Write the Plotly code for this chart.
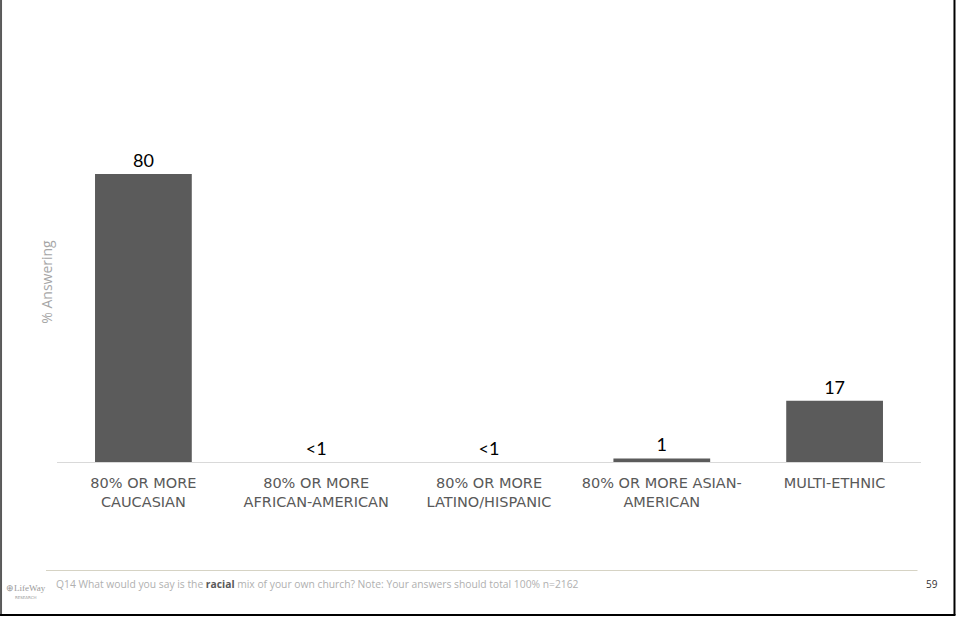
import plotly.graph_objects as go

categories = ["80% OR MORE<br>CAUCASIAN", "80% OR MORE<br>AFRICAN-AMERICAN",
              "80% OR MORE<br>LATINO/HISPANIC", "80% OR MORE ASIAN-<br>AMERICAN",
              "MULTI-ETHNIC"]
values = [80, 0, 0, 1, 17]
value_labels = ["80", "<1", "<1", "1", "17"]

W, H = 958, 617
L, R, T, B = 57, 36.5, 102, 155
PW, PH = W - L - R, H - T - B


def px(x):
    return (x - L) / PW


def py(y):
    return (H - B - y) / PH


fig = go.Figure(go.Bar(
    x=categories, y=values, text=value_labels, textposition="outside",
    marker=dict(color="#5b5b5b", line=dict(width=0)),
    textfont=dict(family="Lato", size=18, color="#000000"),
    cliponaxis=False, hoverinfo="skip",
))

fig.update_layout(
    width=W, height=H, margin=dict(l=L, r=R, t=T, b=B, autoexpand=False),
    paper_bgcolor="white", plot_bgcolor="white", showlegend=False,
    bargap=0.44,
    xaxis=dict(showline=True, linecolor="#d9d9d9", linewidth=1, ticks="",
               tickfont=dict(family="DejaVu Sans", size=14.5, color="#595959"),
               ticklabelstandoff=8,
               showgrid=False, zeroline=False),
    yaxis=dict(range=[0, 100], showticklabels=False, showgrid=False, zeroline=False,
               title=dict(text="% Answering", font=dict(family="Open Sans", size=14, color="#a6a6a6"),
                          standoff=0)),
    shapes=[
        dict(type="line", xref="paper", yref="paper", x0=px(46), x1=px(918), y0=py(570.5), y1=py(570.5),
             line=dict(color="#d6d3c4", width=1)),
        dict(type="line", xref="paper", yref="paper", x0=px(1), x1=px(1), y0=py(0), y1=py(615),
             line=dict(color="#595959", width=2)),
        dict(type="line", xref="paper", yref="paper", x0=px(955), x1=px(955), y0=py(0), y1=py(615),
             line=dict(color="#000000", width=2)),
        dict(type="line", xref="paper", yref="paper", x0=px(0), x1=px(956), y0=py(615), y1=py(615),
             line=dict(color="#000000", width=2)),
    ],
    annotations=[
        dict(text="Q14 What would you say is the <b><span style='color:#595959'>racial</span></b> mix of your own church? Note: Your answers should total 100% n=2162",
             xref="paper", yref="paper", x=px(54), y=py(584), xanchor="left", yanchor="middle",
             showarrow=False, font=dict(family="Open Sans", size=10.3, color="#b0b0b0")),
        dict(text="59", xref="paper", yref="paper", x=px(933), y=py(584), xanchor="center", yanchor="middle",
             showarrow=False, font=dict(family="Open Sans", size=10, color="#333333")),
        dict(text="⊕LifeWay", xref="paper", yref="paper", x=px(4), y=py(588), xanchor="left", yanchor="middle",
             showarrow=False, font=dict(family="Liberation Serif", size=9, color="#9a9a9a")),
        dict(text="RESEARCH", xref="paper", yref="paper", x=px(26), y=py(597), xanchor="center", yanchor="middle",
             showarrow=False, font=dict(family="DejaVu Sans", size=4, color="#9a9a9a")),
    ],
)

fig.write_html("out.html", config={"displayModeBar": False},
               post_script="document.body.style.margin='0';document.body.style.overflow='hidden';")
